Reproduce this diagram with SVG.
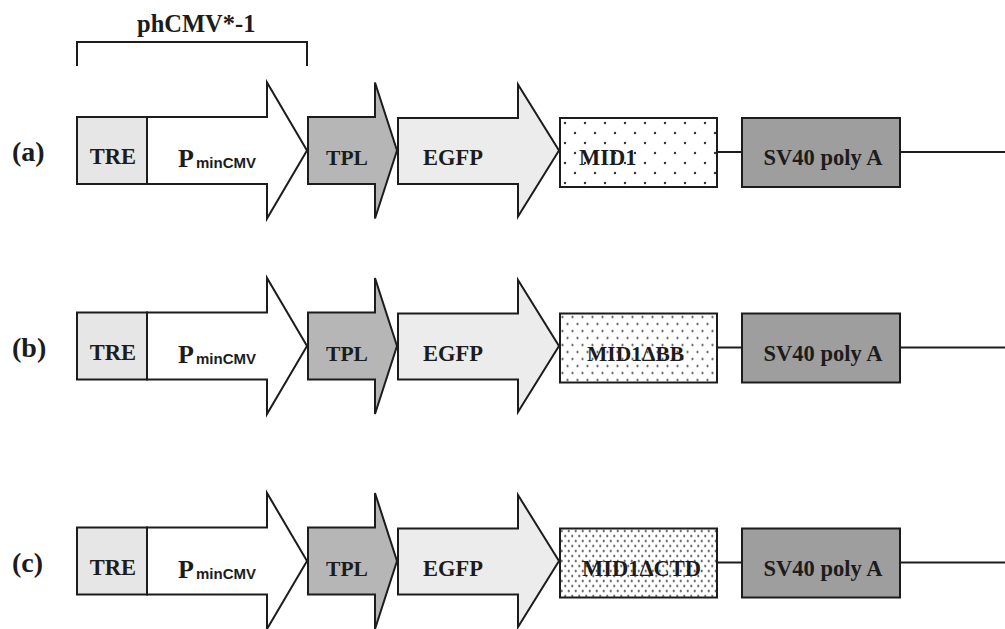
<svg xmlns="http://www.w3.org/2000/svg" width="1005" height="629" viewBox="0 0 1005 629">
<style>
.box{stroke:#1c1c1c;stroke-width:2;stroke-linejoin:miter}
.tre{fill:#e6e6e6}
.pmin{fill:#ffffff}
.tpl{fill:#b6b6b6}
.egfp{fill:#ececec}
.sv40{fill:#9e9e9e}
.t{font-family:"Liberation Serif","Times New Roman",serif;font-weight:bold;fill:#1c1c1c}
.sub{font-family:"Liberation Sans",Arial,sans-serif;font-weight:bold;fill:#1c1c1c}
.ln{stroke:#1c1c1c;stroke-width:2;fill:none}
</style>
<defs>
<pattern id="dotsA" width="20" height="20" patternUnits="userSpaceOnUse" x="560" y="118">
<rect width="20" height="20" fill="#fff"/>
<circle cx="5" cy="5" r="1.2" fill="#333"/>
<circle cx="15" cy="15" r="1.2" fill="#333"/>
</pattern>
<pattern id="dotsB" width="10" height="14" patternUnits="userSpaceOnUse" x="560" y="118">
<rect width="10" height="14" fill="#fff"/>
<circle cx="2.5" cy="3.5" r="1.1" fill="#333"/>
<circle cx="7.5" cy="10.5" r="1.1" fill="#333"/>
</pattern>
<pattern id="dotsC" width="7" height="10" patternUnits="userSpaceOnUse" x="560" y="118">
<rect width="7" height="10" fill="#fff"/>
<circle cx="1.75" cy="2.5" r="1.1" fill="#333"/>
<circle cx="5.25" cy="7.5" r="1.1" fill="#333"/>
</pattern>
<g id="common">
<rect class="box tre" x="77" y="117" width="70" height="67"/>
<path class="box pmin" d="M147,117 H267 V82.5 L307,150.5 L267,218.5 V184 H147 Z"/>
<path class="box tpl" d="M308,117 H375 V82.5 L397,150.5 L375,218.5 V184 H308 Z"/>
<path class="box egfp" d="M398,118 H518 V84.5 L559,150.5 L518,216.5 V184 H398 Z"/>
<rect class="box sv40" x="742" y="118" width="158" height="69"/>
<text class="t" x="113" y="164" font-size="22.5" text-anchor="middle">TRE</text>
<text class="t" x="178" y="167" font-size="26">P</text>
<text class="sub" x="196" y="168" font-size="15">minCMV</text>
<text class="t" x="347" y="165" font-size="21.5" text-anchor="middle">TPL</text>
<text class="t" x="423" y="165" font-size="22.5">EGFP</text>
<text class="t" x="823" y="165" font-size="22.5" text-anchor="middle">SV40 poly A</text>
</g>
</defs>

<g id="title">
<text class="t" x="137" y="32" font-size="24.5">phCMV*-1</text>
<path class="ln" d="M77,66 V42 H307 V66"/>
</g>

<g id="construct-a">
<use href="#common"/>
<rect class="box" x="560" y="118" width="157" height="69" fill="url(#dotsA)"/>
<text class="t" x="579" y="165" font-size="22.5">MID1</text>
<text class="t" x="12" y="161" font-size="28">(a)</text>
</g>

<g id="construct-b" transform="translate(0,195.5)">
<use href="#common"/>
<rect class="box" x="560" y="118" width="157" height="69" fill="url(#dotsB)"/>
<text class="t" x="587" y="165" font-size="21.5">MID1ΔBB</text>
<text class="t" x="12" y="161" font-size="28">(b)</text>
</g>

<g id="construct-c" transform="translate(0,410.5)">
<use href="#common"/>
<rect class="box" x="560" y="118" width="157" height="69" fill="url(#dotsC)"/>
<text class="t" x="582" y="165" font-size="22.5">MID1ΔCTD</text>
<text class="t" x="12" y="161" font-size="28">(c)</text>
</g>

<g id="connectors">
<path class="ln" d="M717,152 H742 M900,152 H1005"/>
<path class="ln" d="M717,347.5 H742 M900,347.5 H1005"/>
<path class="ln" d="M717,562.5 H742 M900,562.5 H1005"/>
</g>
</svg>
